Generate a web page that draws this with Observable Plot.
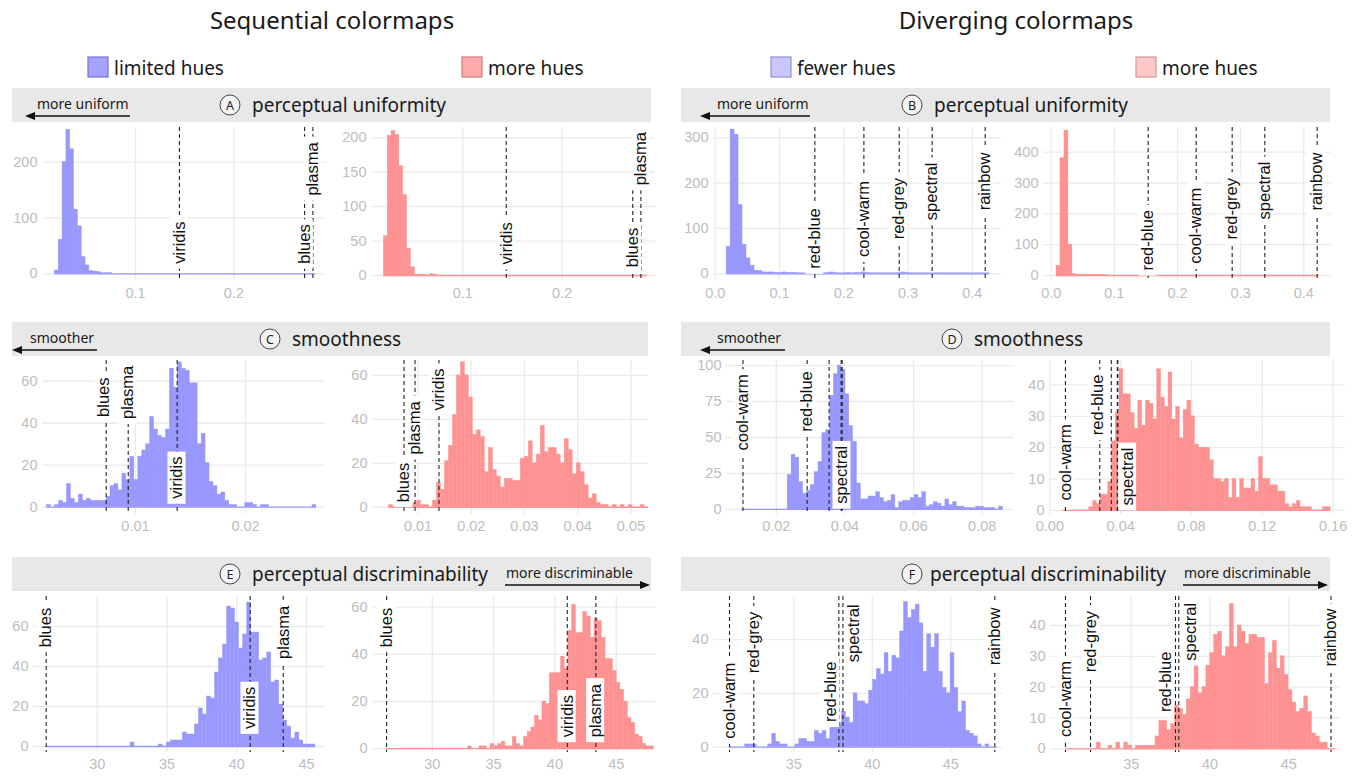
<!DOCTYPE html>
<html><head><meta charset="utf-8">
<script src="https://cdn.jsdelivr.net/npm/d3@7"></script>
<script src="https://cdn.jsdelivr.net/npm/@observablehq/plot@0.6"></script>
<style>
body{margin:0;background:#fff;}
#root{position:relative;width:1359px;height:776px;overflow:hidden;}
#root > div.panel{position:absolute;}
</style></head><body><div id="root"></div>
<script>
// ---------- DATA ----------
// A: perceptual uniformity, sequential
const seqUniLimitedStart = 0.018, seqUniLimitedBinWidth = 0.0039;
const seqUniLimitedCounts = [6,61,200,258,223,115,85,30,15,5, 4,3,1,1,1,0,0,0,0,0, 0,0,0,0,0,0,0,0,0,0, 0,0,0,0,0,0,0,0,0,0, 0,0,0,0,0,0,0,0,0,0, 0,0,0,0,0,0,0,0,0,0, 0,0,0,0,0,0,0,0];
const seqUniLimitedNames = ["viridis","blues","plasma"];
const seqUniLimitedValues = [0.1447,0.272,0.2805];
const seqUniLimitedLabelAt = [18,18,140];

const seqUniMoreStart = 0.0204, seqUniMoreBinWidth = 0.0039;
const seqUniMoreCounts = [57,203,210,204,159,117,39,12,1,1, 1,0,2,1,0,0,0,0,0,0, 0,0,0,0,0,0,0,0,0,0, 0,0,0,0,0,0,0,0,0,0, 0,0,0,0,0,0,0,0,0,0, 0,0,0,0,0,0,0,0,0,0, 0,0,0,0,0,0,0,0];
const seqUniMoreNames = ["viridis","blues","plasma"];
const seqUniMoreValues = [0.1437,0.2711,0.2793];
const seqUniMoreLabelAt = [16,12,131];

// B: perceptual uniformity, diverging
const divUniFewerStart = 0.0177, divUniFewerBinWidth = 0.0062;
const divUniFewerCounts = [60,318,307,152,64,34,18,7,6,3, 3,3,2,2,3,2,2,2,1,1, 1,1,0,0,1,2,3,2,1,1, 2,1,2,2,3,2,1,1,1,1, 1,1,1,2,3,2,1,1,1,1, 1,1,1,1,1,1,1,1,1,1, 1,1,1,1,1,1];
const divUniFewerNames = ["red-blue","cool-warm","red-grey","spectral","rainbow"];
const divUniFewerValues = [0.155,0.2313,0.2862,0.3375,0.42];
const divUniFewerLabelAt = [11,37,76,118,140];

const divUniMoreStart = 0.0084, divUniMoreBinWidth = 0.0063;
const divUniMoreCounts = [32,380,470,100,5,2,1,1,1,1, 1,1,1,0,0,0,0,0,0,0, 0,0,0,0,0,0,0,0,0,0, 0,0,0,0,0,0,0,0,0,0, 0,0,0,0,0,0,0,0,0,0, 0,0,0,0,0,0,0,0,0,0, 0,0,0,0,0,0];
const divUniMoreNames = ["red-blue","cool-warm","red-grey","spectral","rainbow"];
const divUniMoreValues = [0.1536,0.2296,0.2866,0.3383,0.4212];
const divUniMoreLabelAt = [16,38,117,182,211];

// C: smoothness, sequential
const seqSmoothLimitedStart = 0.00197, seqSmoothLimitedBinWidth = 0.00036;
const seqSmoothLimitedCounts = [1,0,1,3,2,11,4,2,6,3, 4,3,3,3,3,5,10,11,8,16, 13,24,13,24,27,30,43,37,34,33, 37,66,57,69,66,65,59,59,30,35, 21,12,10,6,7,3,1,1,0,0, 2,2,1,0,1,1,0,0,0,0, 0,0,0,0,0,0,0,1];
const seqSmoothLimitedNames = ["blues","plasma","viridis"];
const seqSmoothLimitedValues = [0.00734,0.00934,0.01379];
const seqSmoothLimitedLabelAt = [43,42,4];

const seqSmoothMoreStart = 0.00456, seqSmoothMoreBinWidth = 0.00075;
const seqSmoothMoreCounts = [1,0,1,1,1,0,2,3,1,1, 0,3,11,8,21,28,42,60,66,60, 50,33,35,32,16,27,17,14,9,13, 13,12,12,22,23,30,20,24,37,25, 27,27,24,20,31,26,15,20,16,10, 4,6,2,1,1,0,1,0,1,0, 1,0,0,1,0];
const seqSmoothMoreNames = ["blues","plasma","viridis"];
const seqSmoothMoreValues = [0.00738,0.00944,0.01394];
const seqSmoothMoreLabelAt = [2.3,24,44];

// D: smoothness, diverging
const divSmoothFewerStart = 0.0099, divSmoothFewerBinWidth = 0.00112;
const divSmoothFewerCounts = [0,0,0,0,0,0,0,0,0,0, 0,0,24,38,36,19,11,13,17,26, 33,53,55,79,94,100,97,80,58,47, 18,7,7,9,9,12,8,5,6,10, 1,5,6,6,8,10,8,12,2,3, 5,4,2,7,3,5,2,2,1,1, 1,2,2,1,1,1,0,2];
const divSmoothFewerNames = ["cool-warm","red-blue","red-grey","rainbow","spectral"];
const divSmoothFewerValues = [0.0103,0.029,0.0354,0.0389,0.0392];
const divSmoothFewerLabelAt = [41,54,null,null,4];

const divSmoothMoreStart = 0.0074, divSmoothMoreBinWidth = 0.00213;
const divSmoothMoreCounts = [0,0,0,0,0,0,0,1,3,2, 5,5,9,22,31,45,37,37,31,26, 35,27,35,34,29,45,36,33,44,29, 33,23,32,35,30,21,20,20,20,16, 10,10,9,10,4,10,4,10,7,7, 10,6,17,10,10,8,8,6,6,2, 1,2,3,1,1,1,0,0,0,1, 1];
const divSmoothMoreNames = ["cool-warm","red-blue","red-grey","rainbow","spectral"];
const divSmoothMoreValues = [0.0088,0.0282,0.0347,0.0381,0.0384];
const divSmoothMoreLabelAt = [3.2,24,null,null,1.6];

// E: perceptual discriminability, sequential
const seqDiscLimitedStart = 26.34, seqDiscLimitedBinWidth = 0.288;
const seqDiscLimitedCounts = [0,0,0,0,0,0,0,0,0,0, 0,0,0,0,0,0,0,0,0,0, 0,2,0,0,0,0,0,0,1,0, 2,3,3,3,7,6,6,11,19,16, 25,24,37,44,51,70,69,62,49,56, 72,57,57,43,44,47,32,33,21,13, 10,4,7,3,1,1,1];
const seqDiscLimitedNames = ["blues","viridis","plasma"];
const seqDiscLimitedValues = [26.34,40.96,43.33];
const seqDiscLimitedLabelAt = [49.6,8.8,43.8];

const seqDiscMoreStart = 26.28, seqDiscMoreBinWidth = 0.3025;
const seqDiscMoreCounts = [0,0,0,0,0,0,0,0,0,0, 0,0,0,0,0,0,0,0,0,0, 0,0,1,0,0,1,1,0,2,1, 2,3,1,1,5,2,1,5,7,9, 14,12,20,19,32,32,32,39,34,50, 61,49,49,58,56,47,55,54,47,38, 38,33,28,25,20,13,11,6,5,2, 1,1];
const seqDiscMoreNames = ["blues","viridis","plasma"];
const seqDiscMoreValues = [26.28,41.01,43.34];
const seqDiscMoreLabelAt = [43,4.9,4.9];

// F: perceptual discriminability, diverging
const divDiscFewerStart = 30.9, divDiscFewerBinWidth = 0.2472;
const divDiscFewerCounts = [0,0,0,0,1,1,1,0,0,0, 1,5,2,1,1,0,0,1,3,3, 2,2,6,5,6,3,8,8,9,13, 11,9,20,17,17,16,21,25,29,27, 35,28,34,33,43,54,48,51,53,46, 28,42,37,42,28,22,20,35,22,13, 17,6,5,4,1,0,1,0,0];
const divDiscFewerNames = ["cool-warm","red-grey","red-blue","spectral","rainbow"];
const divDiscFewerValues = [30.9,32.45,37.87,38.13,47.81];
const divDiscFewerLabelAt = [3.1,27.5,9.3,31.6,30.4];

const divDiscMoreStart = 30.83, divDiscMoreBinWidth = 0.2483;
const divDiscMoreCounts = [0,0,0,0,0,0,0,0,2,0, 0,1,0,2,0,2,1,0,1,1, 1,1,1,4,9,9,6,8,14,13, 11,16,20,28,18,20,27,31,37,38, 30,33,47,33,40,38,34,37,37,36, 36,21,31,35,26,30,24,19,15,12, 13,17,12,5,4,2,2,0,0];
const divDiscMoreNames = ["cool-warm","red-grey","red-blue","spectral","rainbow"];
const divDiscMoreValues = [30.83,32.42,37.81,38.02,47.68];
const divDiscMoreLabelAt = [3.8,24.8,11.9,28.6,26.7];

// tick labels
const uniSeqXTicks = [0.1, 0.2];
const uniDivXTicks = [0, 0.1, 0.2, 0.3, 0.4];
const smoothSeqLimitedXTicks = [0.01, 0.02];
const smoothSeqMoreXTicks = [0.01, 0.02, 0.03, 0.04, 0.05];
const smoothDivFewerXTicks = [0.02, 0.04, 0.06, 0.08];
const smoothDivMoreXTicks = [0, 0.04, 0.08, 0.12, 0.16];
const discSeqXTicks = [30, 35, 40, 45];
const discDivXTicks = [35, 40, 45];
const yTicksA1 = [0,100,200], yTicksA2 = [0,50,100,150,200];
const yTicksB1 = [0,100,200,300], yTicksB2 = [0,100,200,300,400];
const yTicksC = [0,20,40,60];
const yTicksD1 = [0,25,50,75,100], yTicksD2 = [0,10,20,30,40];
const yTicksE = [0,20,40,60];
const yTicksF1 = [0,20,40], yTicksF2 = [0,10,20,30,40];

// text
const columnTitles = ["Sequential colormaps","Diverging colormaps"];
const legendLabels = ["limited hues","more hues","fewer hues","more hues"];
const sectionTitles = ["perceptual uniformity","perceptual uniformity","smoothness","smoothness","perceptual discriminability","perceptual discriminability"];
const sectionLetters = ["A","B","C","D","E","F"];
const sectionHints = ["more uniform","more uniform","smoother","smoother","more discriminable","more discriminable"];

// ---------- STYLE / LAYOUT ----------
const BLUE = "#9797fd", PINK = "#fe9191";
const root = document.getElementById("root");
const NS = "http://www.w3.org/2000/svg";

const ov = document.createElementNS(NS, "svg");
ov.setAttribute("width", 1359); ov.setAttribute("height", 776);
ov.style.position = "absolute"; ov.style.left = "0"; ov.style.top = "0";
ov.style.fontFamily = "'Noto Sans', sans-serif";
root.appendChild(ov);
function el(tag, attrs, text) {
  const e = document.createElementNS(NS, tag);
  for (const k in attrs) e.setAttribute(k, attrs[k]);
  if (text != null) e.textContent = text;
  ov.appendChild(e);
  return e;
}
[[332, columnTitles[0]], [1016, columnTitles[1]]].forEach(([x, t]) =>
  el("text", {x, y: 19, "text-anchor": "middle", "dominant-baseline": "central", "font-size": 24, fill: "#1a1a1a"}, t));
const legendItems = [
  {x: 88, fill: "#a3a3ff", stroke: "#7474d0", label: legendLabels[0]},
  {x: 462, fill: "#ffabab", stroke: "#d07c7c", label: legendLabels[1]},
  {x: 771, fill: "#c8c8ff", stroke: "#9090d0", label: legendLabels[2]},
  {x: 1136, fill: "#ffc8c8", stroke: "#d09898", label: legendLabels[3]}
];
legendItems.forEach(d => {
  el("rect", {x: d.x, y: 57, width: 20, height: 20, fill: d.fill, stroke: d.stroke, "stroke-width": 1.2});
  el("text", {x: d.x + 26, y: 67.5, "dominant-baseline": "central", "font-size": 19, fill: "#1a1a1a"}, d.label);
});
const headerLayout = [
  {x0: 12, x1: 651, y0: 88, cx: 230, tx: 252, hx: 37, a: [130, 25]},
  {x0: 681, x1: 1330, y0: 88, cx: 912, tx: 934, hx: 717, a: [810, 700]},
  {x0: 12, x1: 648, y0: 322, cx: 270, tx: 292, hx: 30, a: [97, 12]},
  {x0: 681, x1: 1330, y0: 322, cx: 952, tx: 974, hx: 717, a: [785, 700]},
  {x0: 12, x1: 651, y0: 557, cx: 230, tx: 252, hx: 506, a: [505, 650]},
  {x0: 681, x1: 1330, y0: 557, cx: 912, tx: 930, hx: 1184, a: [1183, 1328]}
];
headerLayout.forEach((h, i) => {
  el("rect", {x: h.x0, y: h.y0, width: h.x1 - h.x0, height: 34, fill: "#e8e8e8"});
  const cy = h.y0 + 17;
  el("circle", {cx: h.cx, cy, r: 10, fill: "#f4f4f4", stroke: "#444", "stroke-width": 1});
  el("text", {x: h.cx, y: cy + 0.5, "text-anchor": "middle", "dominant-baseline": "central", "font-size": 12.5, fill: "#222"}, sectionLetters[i]);
  el("text", {x: h.tx, y: cy, "dominant-baseline": "central", "font-size": 19, fill: "#1a1a1a"}, sectionTitles[i]);
  el("text", {x: h.hx, y: h.y0 + 15, "dominant-baseline": "central", "font-size": 14, fill: "#1a1a1a"}, sectionHints[i]);
  const ay = h.y0 + 28, [s, e] = h.a, dir = Math.sign(e - s);
  el("line", {x1: s, y1: ay, x2: e - dir * 8, y2: ay, stroke: "#111", "stroke-width": 1.4});
  el("polygon", {points: `${e},${ay} ${e - dir * 10},${ay - 4} ${e - dir * 10},${ay + 4}`, fill: "#111"});
});

// ---------- PANELS ----------
const panels = [
  {color: BLUE, start: seqUniLimitedStart, bw: seqUniLimitedBinWidth, counts: seqUniLimitedCounts, names: seqUniLimitedNames, values: seqUniLimitedValues, labelAt: seqUniLimitedLabelAt,
   xTicks: uniSeqXTicks, yTicks: yTicksA1, xFmt: ".1f", L: 42, R: 325, T: 127, B: 281, xDomain: [0.0054, 0.2933], yDomain: [-13.8, 262]},
  {color: PINK, start: seqUniMoreStart, bw: seqUniMoreBinWidth, counts: seqUniMoreCounts, names: seqUniMoreNames, values: seqUniMoreValues, labelAt: seqUniMoreLabelAt,
   xTicks: uniSeqXTicks, yTicks: yTicksA2, xFmt: ".1f", L: 371, R: 655, T: 127, B: 281, xDomain: [0.008, 0.294], yDomain: [-8.7, 215]},
  {color: BLUE, start: divUniFewerStart, bw: divUniFewerBinWidth, counts: divUniFewerCounts, names: divUniFewerNames, values: divUniFewerValues, labelAt: divUniFewerLabelAt,
   xTicks: uniDivXTicks, yTicks: yTicksB1, xFmt: ".1f", L: 713, R: 1001, T: 127, B: 281, xDomain: [-0.0027, 0.4454], yDomain: [-17, 322.7]},
  {color: PINK, start: divUniMoreStart, bw: divUniMoreBinWidth, counts: divUniMoreCounts, names: divUniMoreNames, values: divUniMoreValues, labelAt: divUniMoreLabelAt,
   xTicks: uniDivXTicks, yTicks: yTicksB2, xFmt: ".1f", L: 1043, R: 1331, T: 127, B: 281, xDomain: [-0.0122, 0.4439], yDomain: [-19.5, 480]},
  {color: BLUE, start: seqSmoothLimitedStart, bw: seqSmoothLimitedBinWidth, counts: seqSmoothLimitedCounts, names: seqSmoothLimitedNames, values: seqSmoothLimitedValues, labelAt: seqSmoothLimitedLabelAt,
   xTicks: smoothSeqLimitedXTicks, yTicks: yTicksC, xFmt: ".2f", L: 42, R: 325, T: 360, B: 514, xDomain: [0.00155, 0.02727], yDomain: [-3.5, 69.9], dx: [-2, 0, 0]},
  {color: PINK, start: seqSmoothMoreStart, bw: seqSmoothMoreBinWidth, counts: seqSmoothMoreCounts, names: seqSmoothMoreNames, values: seqSmoothMoreValues, labelAt: seqSmoothMoreLabelAt,
   xTicks: smoothSeqMoreXTicks, yTicks: yTicksC, xFmt: ".2f", L: 372, R: 648, T: 360, B: 514, xDomain: [0.00145, 0.0533], yDomain: [-3.3, 66.8]},
  {color: BLUE, start: divSmoothFewerStart, bw: divSmoothFewerBinWidth, counts: divSmoothFewerCounts, names: divSmoothFewerNames, values: divSmoothFewerValues, labelAt: divSmoothFewerLabelAt,
   xTicks: smoothDivFewerXTicks, yTicks: yTicksD1, xFmt: ".2f", L: 726, R: 1014, T: 360, B: 514, xDomain: [0.0055, 0.0894], yDomain: [-3.5, 103.5]},
  {color: PINK, start: divSmoothMoreStart, bw: divSmoothMoreBinWidth, counts: divSmoothMoreCounts, names: divSmoothMoreNames, values: divSmoothMoreValues, labelAt: divSmoothMoreLabelAt,
   xTicks: smoothDivMoreXTicks, yTicks: yTicksD2, xFmt: ".2f", L: 1049, R: 1345, T: 360, B: 514, xDomain: [-0.0002, 0.167], yDomain: [-1.3, 47.8], dx: [0, -2, 0, 0, 10]},
  {color: BLUE, start: seqDiscLimitedStart, bw: seqDiscLimitedBinWidth, counts: seqDiscLimitedCounts, names: seqDiscLimitedNames, values: seqDiscLimitedValues, labelAt: seqDiscLimitedLabelAt,
   xTicks: discSeqXTicks, yTicks: yTicksE, xFmt: "d", L: 33, R: 325, T: 596, B: 752, xDomain: [25.43, 46.36], yDomain: [-3, 75]},
  {color: PINK, start: seqDiscMoreStart, bw: seqDiscMoreBinWidth, counts: seqDiscMoreCounts, names: seqDiscMoreNames, values: seqDiscMoreValues, labelAt: seqDiscMoreLabelAt,
   xTicks: discSeqXTicks, yTicks: yTicksE, xFmt: "d", L: 372, R: 655, T: 596, B: 752, xDomain: [25.13, 48.2], yDomain: [-1.6, 64.5]},
  {color: BLUE, start: divDiscFewerStart, bw: divDiscFewerBinWidth, counts: divDiscFewerCounts, names: divDiscFewerNames, values: divDiscFewerValues, labelAt: divDiscFewerLabelAt,
   xTicks: discDivXTicks, yTicks: yTicksF1, xFmt: "d", L: 713, R: 1002, T: 596, B: 752, xDomain: [29.88, 48.3], yDomain: [-2, 56], dx: [0, 0, -8, 11, 0]},
  {color: PINK, start: divDiscMoreStart, bw: divDiscMoreBinWidth, counts: divDiscMoreCounts, names: divDiscMoreNames, values: divDiscMoreValues, labelAt: divDiscMoreLabelAt,
   xTicks: discDivXTicks, yTicks: yTicksF2, xFmt: "d", L: 1050, R: 1340, T: 596, B: 752, xDomain: [29.88, 48.28], yDomain: [-1.2, 49.4], dx: [0, 0, -10, 12, 0]}
];

function addLabelBoxes(svg) {
  svg.querySelectorAll('g[aria-label="text"] text').forEach(t => {
    const bb = t.getBBox();
    const r = document.createElementNS(NS, "rect");
    r.setAttribute("x", bb.x - 5);
    r.setAttribute("y", bb.y);
    r.setAttribute("width", bb.width + 10);
    r.setAttribute("height", bb.height);
    r.setAttribute("fill", "#fff");
    r.setAttribute("stroke", "none");
    const tr = t.getAttribute("transform");
    if (tr) r.setAttribute("transform", tr);
    t.parentNode.insertBefore(r, t);
  });
}

const ml = 44, mr = 10, mt = 4, mb = 28;
panels.forEach(p => {
  const bins = p.counts.map((c, i) => ({x1: p.start + i * p.bw, x2: p.start + (i + 1) * p.bw, count: c}));
  const end = p.start + p.counts.length * p.bw;
  const lines = p.names.map((n, i) => ({name: n, x: p.values[i], ly: p.labelAt[i], dx: p.dx ? p.dx[i] : 0}));
  const fmt = d3.format(p.xFmt);
  const labelMarks = lines.filter(d => d.ly != null).map(d =>
    Plot.text([d], {x: "x", y: "ly", text: "name", rotate: -90, textAnchor: "start", fill: "#111", fontSize: 16.5, fontWeight: 500, dx: d.dx}));
  const svg = Plot.plot({
    width: p.R - p.L + ml + mr,
    height: p.B - p.T + mt + mb,
    marginLeft: ml, marginRight: mr, marginTop: mt, marginBottom: mb,
    x: {domain: p.xDomain, label: null},
    y: {domain: p.yDomain, label: null},
    style: {fontFamily: "'Liberation Sans', Arial, sans-serif", fontSize: "14.5px", color: "#bdbdbd", background: "transparent", overflow: "visible"},
    marks: [
      Plot.gridX(p.xTicks, {stroke: "#ebebeb", strokeOpacity: 1, strokeWidth: 1.3}),
      Plot.gridY(p.yTicks, {stroke: "#ebebeb", strokeOpacity: 1, strokeWidth: 1.3}),
      Plot.ruleY([0], {x1: p.start, x2: end, stroke: p.color, strokeWidth: 1.3}),
      Plot.rectY(bins, {x1: "x1", x2: "x2", y: "count", fill: p.color, stroke: p.color, strokeWidth: 0.4, inset: 0}),
      Plot.ruleX(lines, {x: "x", stroke: "#222", strokeWidth: 1.1, strokeDasharray: "4,3"}),
      ...labelMarks,
      Plot.axisX(p.xTicks, {tickSize: 0, tickPadding: 6, tickFormat: fmt, label: null}),
      Plot.axisY(p.yTicks, {tickSize: 0, tickPadding: 5, label: null})
    ]
  });
  const div = document.createElement("div");
  div.className = "panel";
  div.style.left = (p.L - ml) + "px";
  div.style.top = (p.T - mt) + "px";
  div.appendChild(svg);
  root.appendChild(div);
  addLabelBoxes(svg);
});
</script></body></html>
